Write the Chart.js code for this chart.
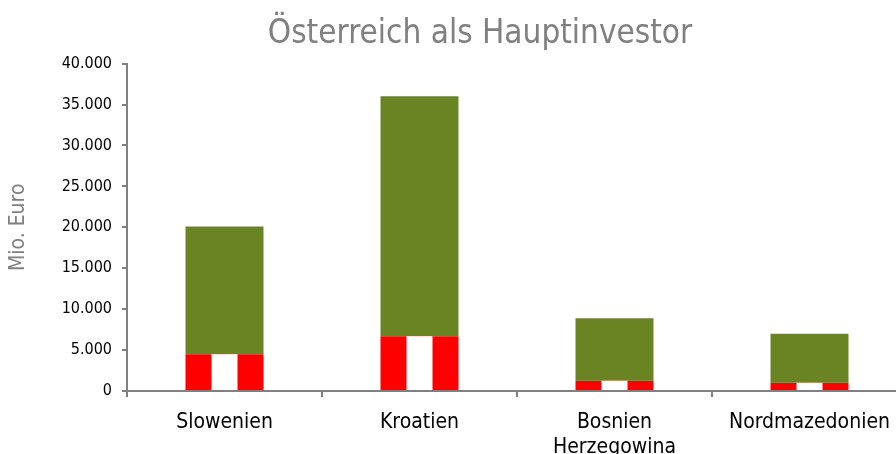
<!DOCTYPE html>
<html>
<head>
<meta charset="utf-8">
<script src="https://cdn.jsdelivr.net/npm/chart.js@4"></script>
<style>
  html, body { margin: 0; padding: 0; overflow: hidden; background: #fff; }
  canvas { display: block; }
</style>
</head>
<body>
<canvas id="investChart" width="960" height="454" style="width:960px;height:454px"></canvas>
<script>
// Daten (Mio. Euro)
var laender = ['Slowenien', 'Kroatien', ['Bosnien', 'Herzegowina'], 'Nordmazedonien'];
var gesamt = [20100, 36000, 8900, 7000];
var oesterreich = [4500, 6700, 1250, 1000];
var yTicks = [0, 5000, 10000, 15000, 20000, 25000, 30000, 35000, 40000];

var rest = gesamt.map(function (v, i) { return v - oesterreich[i]; });

var FONT = "'DejaVu Sans Condensed', 'DejaVu Sans', sans-serif";
var GRAU = '#808080';

// weisser Mittelstreifen fuer die Flagge (rot-weiss-rot)
var flagPlugin = {
    id: 'flagStripe',
    afterDatasetsDraw: function (chart) {
        var meta = chart.getDatasetMeta(0);
        var ctx = chart.ctx;
        ctx.save();
        ctx.fillStyle = '#ffffff';
        meta.data.forEach(function (bar) {
            var w = bar.width;
            ctx.fillRect(bar.x - w / 6, bar.y, w / 3, bar.base - bar.y);
        });
        ctx.restore();
    }
};

var ctx = document.getElementById('investChart').getContext('2d');
var investChart = new Chart(ctx, {
    type: 'bar',
    data: {
        labels: laender,
        datasets: [{
            label: 'Österreich',
            data: oesterreich,
            backgroundColor: '#ff0000',
            barPercentage: 0.4,
            categoryPercentage: 1
        }, {
            label: 'Gesamt',
            data: rest,
            backgroundColor: '#6a8424',
            barPercentage: 0.4,
            categoryPercentage: 1
        }]
    },
    options: {
        responsive: false,
        animation: false,
        layout: { padding: 0 },
        plugins: {
            legend: { display: false },
            tooltip: { enabled: false },
            title: {
                display: true,
                text: 'Österreich als Hauptinvestor',
                color: GRAU,
                font: { family: FONT, size: 33, weight: 'normal', lineHeight: 1.2 },
                padding: { top: 15, bottom: 9 }
            }
        },
        scales: {
            x: {
                stacked: true,
                afterFit: function (scale) { scale.height = 63; },
                grid: { offset: true, drawOnChartArea: false, tickLength: 6, color: GRAU, lineWidth: 2 },
                border: { color: GRAU, width: 2 },
                ticks: {
                    color: '#000',
                    maxRotation: 0,
                    autoSkip: false,
                    padding: 13,
                    font: { family: FONT, size: 21, lineHeight: 1.2 }
                }
            },
            y: {
                stacked: true,
                min: 0,
                max: 40000,
                afterFit: function (scale) { scale.width = 127; },
                afterBuildTicks: function (scale) {
                    scale.ticks = yTicks.map(function (v) { return { value: v }; });
                },
                grid: { drawOnChartArea: false, tickLength: 5, color: GRAU, lineWidth: 2 },
                border: { color: GRAU, width: 2 },
                ticks: {
                    color: '#000',
                    padding: 10,
                    font: { family: FONT, size: 16 },
                    callback: function (v) { return v.toLocaleString('de-DE'); }
                },
                title: {
                    display: true,
                    text: 'Mio. Euro',
                    color: GRAU,
                    font: { family: FONT, size: 21, lineHeight: 1.2 },
                    padding: { top: 6, bottom: 0 }
                }
            },
            // leere Achse rechts, damit der Titel mittig ueber dem Bild steht
            rechts: {
                type: 'linear',
                position: 'right',
                display: true,
                afterFit: function (scale) { scale.width = 53; },
                grid: { display: false },
                border: { display: false },
                ticks: { display: false }
            }
        }
    },
    plugins: [flagPlugin]
});
</script>
</body>
</html>
